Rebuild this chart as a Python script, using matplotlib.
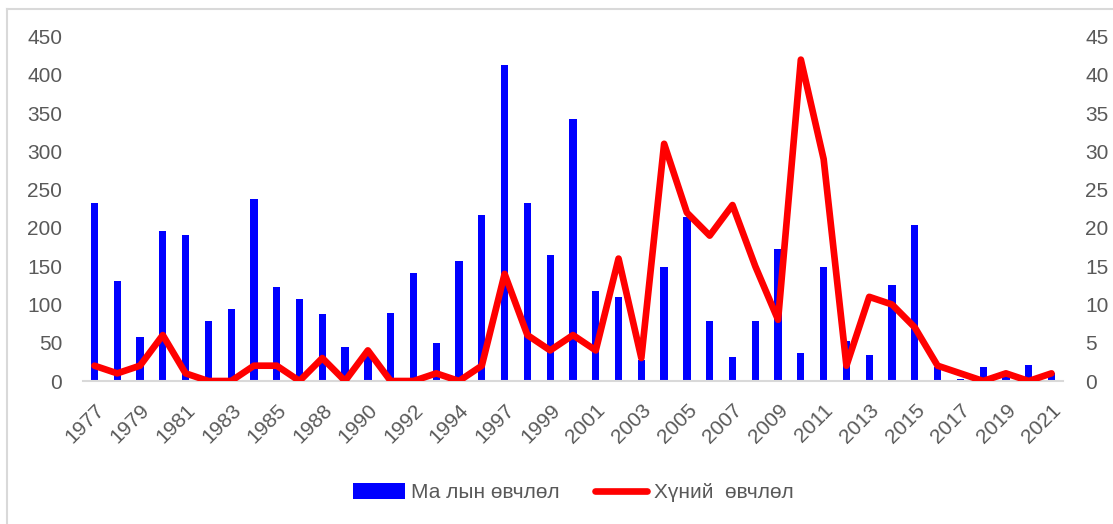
import numpy as np
import matplotlib.pyplot as plt
from matplotlib.lines import Line2D

plt.rcParams['font.family'] = ['Liberation Sans', 'DejaVu Sans']

years = [1977, 1978, 1979, 1980, 1981, 1982, 1983, 1984, 1985, 1986,
         1988, 1989, 1990, 1991, 1992, 1993, 1994, 1995,
         1997, 1998, 1999, 2000, 2001, 2002, 2003, 2004, 2005, 2006,
         2007, 2008, 2009, 2010, 2011, 2012, 2013, 2014, 2015, 2016,
         2017, 2018, 2019, 2020, 2021]

# livestock cases (left axis)
animal = [233, 131, 57, 196, 191, 78, 94, 238, 123, 107,
          87, 44, 35, 89, 141, 50, 157, 217,
          413, 233, 165, 342, 118, 110, 28, 149, 214, 78,
          31, 78, 172, 37, 149, 52, 34, 125, 204, 18,
          3, 18, 9, 21, 10]

# human cases (right axis)
human = [2, 1, 2, 6, 1, 0, 0, 2, 2, 0,
         3, 0, 4, 0, 0, 1, 0, 2,
         14, 6, 4, 6, 4, 16, 3, 31, 22, 19,
         23, 15, 8, 42, 29, 2, 11, 10, 7, 2,
         1, 0, 1, 0, 1]

labels = [str(y) if i % 2 == 0 else '' for i, y in enumerate(years)]

fig = plt.figure(figsize=(11.13, 5.24), dpi=100)
ax = fig.add_axes([0.0746, 0.2729, 0.8804, 0.6571])
ax2 = ax.twinx()

x = np.arange(len(years))
grey = '#595959'

bars = ax.bar(x, animal, width=0.32, color='#0000FF', zorder=2)
line, = ax2.plot(x, human, color='#FF0000', lw=4.8, solid_joinstyle='round',
                 solid_capstyle='round', zorder=3)

ax.set_xlim(-0.5, len(years) - 0.5)
ax.set_ylim(0, 450)
ax2.set_ylim(0, 45)
ax.set_yticks(np.arange(0, 451, 50))
ax2.set_yticks(np.arange(0, 46, 5))

ax.set_xticks(x)
ax.set_xticklabels(labels, rotation=45, ha='right', va='top',
                   rotation_mode='anchor')

for a in (ax, ax2):
    for s in a.spines.values():
        s.set_visible(False)
    a.tick_params(length=0, labelsize=15, labelcolor=grey)
ax.spines['bottom'].set_visible(True)
ax.spines['bottom'].set_color('#D9D9D9')
ax.spines['bottom'].set_linewidth(1.5)
ax.tick_params(axis='y', pad=15)
ax.tick_params(axis='x', pad=14)
ax2.tick_params(axis='y', pad=16)

ax2.set_zorder(ax.get_zorder() + 1)
ax2.patch.set_visible(False)

fig.legend([bars, line], ['Ма лын өвчлөл', 'Хүний  өвчлөл'],
           loc='center', bbox_to_anchor=(0.515, 0.06), ncol=2, frameon=False,
           fontsize=15, labelcolor=grey, handlelength=2.5, handleheight=0.8,
           columnspacing=1.7, handletextpad=0.3)

# chart area frame (only left and top edges visible)
fig.add_artist(Line2D([7 / 1113, 7 / 1113], [0, 1 - 9 / 524],
                      transform=fig.transFigure, color='#D9D9D9', lw=1.5))
fig.add_artist(Line2D([7 / 1113, 1], [1 - 9 / 524, 1 - 9 / 524],
                      transform=fig.transFigure, color='#D9D9D9', lw=1.5))

fig.savefig('out.png', dpi=100)
